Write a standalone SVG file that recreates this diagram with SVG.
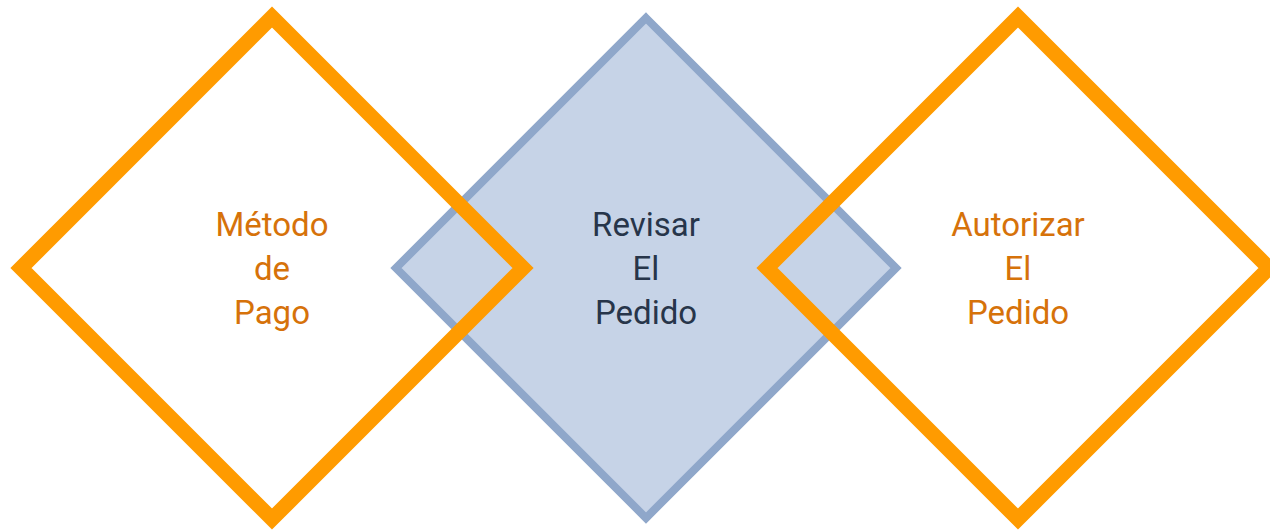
<svg xmlns="http://www.w3.org/2000/svg" width="1270" height="530" viewBox="0 0 1270 530">
<style>
.o{fill:none;stroke:#FF9B00;stroke-width:15;stroke-linejoin:miter;stroke-miterlimit:10}
.b{fill:#C6D3E7;stroke:#8FA7CA;stroke-width:8;stroke-linejoin:miter;stroke-miterlimit:10}
text{font-family:Roboto,"Liberation Sans",sans-serif;font-size:33px;text-anchor:middle}
.to{fill:#D6720A}
.tb{fill:#27354A}
</style>
<g id="revisar">
<polygon class="b" points="646,18 896,268 646,518 396,268"/>
<text class="tb" x="646" y="236">Revisar</text>
<text class="tb" x="646" y="280">El</text>
<text class="tb" x="646" y="324">Pedido</text>
</g>
<g id="metodo">
<polygon class="o" points="272,17 523,268 272,519 21,268"/>
<text class="to" x="272" y="236">Método</text>
<text class="to" x="272" y="280">de</text>
<text class="to" x="272" y="324">Pago</text>
</g>
<g id="autorizar">
<polygon class="o" points="1018,17 1269,268 1018,519 767,268"/>
<text class="to" x="1018" y="236">Autorizar</text>
<text class="to" x="1018" y="280">El</text>
<text class="to" x="1018" y="324">Pedido</text>
</g>
<g id="connectors"/>
</svg>
